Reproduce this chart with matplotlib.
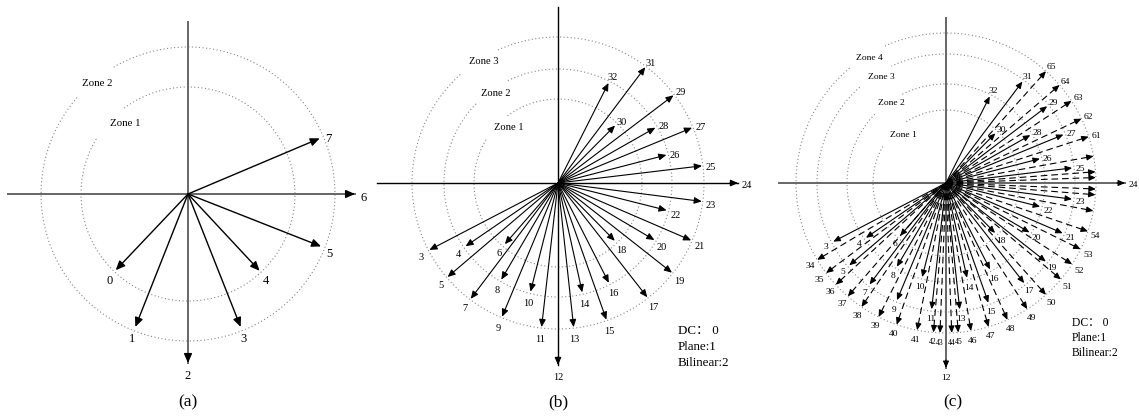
import numpy as np
import matplotlib
matplotlib.use("Agg")
import matplotlib.pyplot as plt

plt.rcParams['font.family'] = ['Liberation Serif', 'Noto Sans CJK SC', 'DejaVu Sans']

# 模式角度（度，逆时针，0 = 水平向右）与所在区域（0 表示坐标轴上的模式）
modes_a = [0, 1, 2, 3, 4, 5, 6, 7]
angles_a = [-133.5, -111.6, -90, -68.4, -47, -21.5, 0, 22.9]
zones_a = [1, 2, 0, 2, 1, 2, 0, 2]

modes_b = list(range(3, 33))
angles_b = [-152.5, -145.6, -139.6, -131, -127, -120.4, -112.7, -104.2, -96.5, -90,
            -83.8, -77.5, -70.5, -63, -52, -45.5, -38.2, -30.6, -23.3, -14.1,
            -7.3, 0, 6.8, 14.5, 22.4, 29.6, 37.2, 45.2, 53, 63.2]
zones_b = [3, 2, 3, 1, 3, 2, 3, 2, 3, 0,
           3, 2, 3, 2, 3, 1, 3, 2, 3, 2,
           3, 0, 3, 2, 3, 2, 3, 1, 3, 2]

# (c) 中新增的扩展模式（虚线）
modes_ext = list(range(34, 66))
angles_ext = [-149.2, -143.1, -137.3, -130.9, -124.3, -116.7, -109.2, -101.1,
              -94.8, -92.3, -87.8, -85.3, -80.4, -73.5, -65.8, -57.2,
              -48.2, -40, -32.8, -26.2, -18.8, -10.7, -4.5, -2.3,
              2.1, 4.3, 10.3, 18, 25.4, 33.2, 40.8, 48.2]
labeled_ext = [m for m in modes_ext if not 55 <= m <= 60]
crowded_ext = [42, 43, 44, 45]

zone_names = ["Zone 1", "Zone 2", "Zone 3", "Zone 4"]
notes = ["DC\uff1a 0", "Plane:1", "Bilinear:2"]
captions = ["(a)", "(b)", "(c)"]

fig = plt.figure(figsize=(11.39, 4.18), dpi=100)
ax = fig.add_axes([0, 0, 1, 1])
ax.set_xlim(0, 1139)
ax.set_ylim(418, 0)
ax.axis('off')


def tip_of(cx, cy, ang, r):
    t = np.deg2rad(ang)
    return cx + r * np.cos(t), cy - r * np.sin(t)


def head(x0, y0, x1, y1, ms, lw):
    ax.annotate('', xy=(x1, y1), xytext=(x0, y0),
                arrowprops=dict(arrowstyle='-|>,head_length=0.5,head_width=0.22',
                                mutation_scale=ms, lw=lw, color='k',
                                shrinkA=0, shrinkB=0))


def panel(cx, cy, circ_r, arrow_r, gaps, axis_len, axis_color, axis_lw,
          modes, angles, zones, lab_fs, lab_out, lab_down, ms, lw,
          zone_pos, zone_fs):
    # 虚点同心圆（左上角留缺口写区域名）
    for r, (g0, g1) in zip(circ_r, gaps):
        th = np.deg2rad(np.linspace(g1, g0 + 360, 400))
        ax.plot(cx + r * np.cos(th), cy - r * np.sin(th),
                color='#888888', lw=0.8, ls=(0, (1, 2.2)))
    for name, (zx, zy) in zip(zone_names, zone_pos):
        ax.text(zx, zy, name, fontsize=zone_fs, ha='center', va='center')
    # 坐标轴
    left, right, top, bottom = axis_len
    ax.plot([cx - left, cx + right], [cy, cy], color=axis_color, lw=axis_lw)
    ax.plot([cx, cx], [cy - top, cy + bottom], color=axis_color, lw=axis_lw)
    for m, a, z in zip(modes, angles, zones):
        if z == 0:
            r = right if a == 0 else bottom
            x1, y1 = tip_of(cx, cy, a, r)
            x0, y0 = tip_of(cx, cy, a, r - 8)
            head(x0, y0, x1, y1, ms, lw)
        else:
            r = arrow_r[z - 1]
            x1, y1 = tip_of(cx, cy, a, r)
            head(cx, cy, x1, y1, ms, lw)
        lx, ly = tip_of(cx, cy, a, r + lab_out)
        ax.text(lx, ly + lab_down, str(m), fontsize=lab_fs,
                ha='center', va='center')


# (a)
panel(188, 194, [107, 147], [105, 143], [(127, 149), (121, 139)],
      (180, 167, 172, 169), '#666666', 1.4,
      modes_a, angles_a, zones_a, 9, 9, 4, 11, 1.0,
      [(125, 124), (97, 83)], 7.8)

# (b)
panel(558, 183, [84, 114, 146], [81, 112, 145],
      [(127, 149), (117, 136), (115, 132)],
      (181, 180, 176, 182), 'k', 1.0,
      modes_b, angles_b, zones_b, 7.5, 9, 3, 9, 0.8,
      [(509, 128), (496, 93), (484, 62)], 7.6)

# (c)
cx_c, cy_c = 946, 183
panel(cx_c, cy_c, [73, 99, 129, 150], [70, 97, 127, 150],
      [(123, 150), (117, 136), (115, 132), (115, 130)],
      (167, 179, 165, 185), '#666666', 1.4,
      modes_b, angles_b, zones_b, 6.8, 8, 2, 8, 0.8,
      [(903, 135), (891, 103), (881, 77), (869, 58)], 6.8)

for m, a in zip(modes_ext, angles_ext):
    x1, y1 = tip_of(cx_c, cy_c, a, 150)
    xs, ys = tip_of(cx_c, cy_c, a, 144)
    ax.plot([cx_c, xs], [cy_c, ys], color='k', lw=0.8, ls=(0, (6, 3.5)))
    head(xs, ys, x1, y1, 8, 0.8)
    if m in labeled_ext:
        lx, ly = tip_of(cx_c, cy_c, a, 158)
        fs = 5.6 if m in crowded_ext else 6.8
        ax.text(lx, ly + 2, str(m), fontsize=fs, ha='center', va='center')

# 说明文字
for i, s in enumerate(notes):
    ax.text(678, 331 + 16 * i, s, fontsize=9.4, ha='left', va='center')
    ax.text(1072, 323 + 15 * i, s, fontsize=8.4, ha='left', va='center')

for x, s in zip([188, 558, 953], captions):
    ax.text(x, 402, s, fontsize=12.5, ha='center', va='center')

fig.savefig('out.png', dpi=100)
